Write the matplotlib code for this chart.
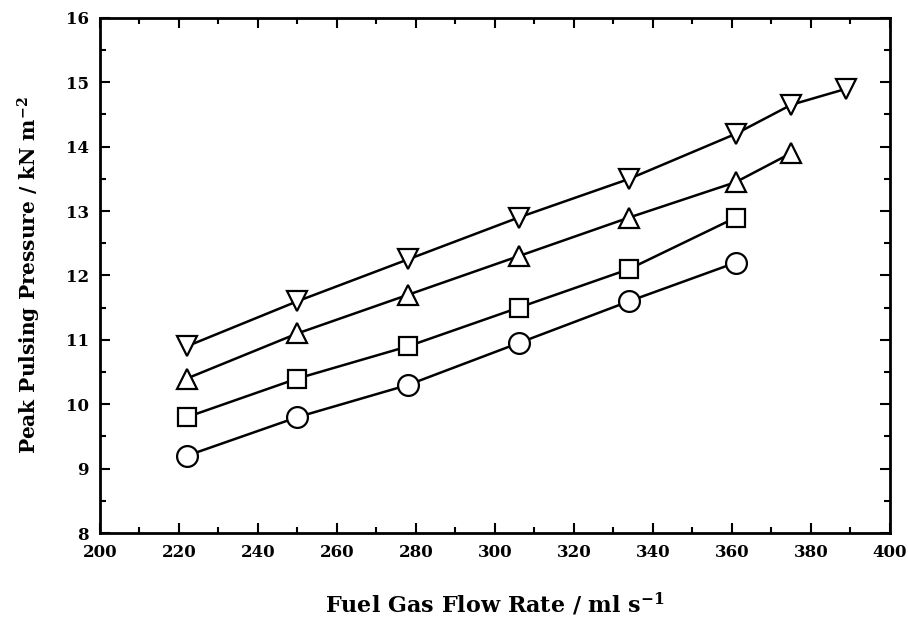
import matplotlib
matplotlib.use("Agg")
import matplotlib.pyplot as plt
from matplotlib.ticker import MultipleLocator

flow = [222, 250, 278, 306, 334, 361, 375, 389]

circle_y = [9.2, 9.8, 10.3, 10.95, 11.6, 12.2]
square_y = [9.8, 10.4, 10.9, 11.5, 12.1, 12.9]
up_y = [10.4, 11.1, 11.7, 12.3, 12.9, 13.45, 13.9]
down_y = [10.9, 11.6, 12.25, 12.9, 13.5, 14.2, 14.65, 14.9]

plt.rcParams['font.family'] = ['DejaVu Serif']
plt.rcParams['font.weight'] = 'bold'
plt.rcParams['mathtext.fontset'] = 'custom'
plt.rcParams['mathtext.rm'] = 'DejaVu Serif:bold'
plt.rcParams['mathtext.default'] = 'rm'

fig = plt.figure(figsize=(9.08, 6.17), dpi=100)
ax = fig.add_axes([0.110, 0.136, 0.870, 0.835])

style = dict(color='black', lw=1.8, mfc='white', mec='black', mew=1.6)
ax.plot(flow[:len(circle_y)], circle_y, marker='o', ms=15, **style)
ax.plot(flow[:len(square_y)], square_y, marker='s', ms=13, **style)
ax.plot(flow[:len(up_y)], up_y, marker='^', ms=15, **style)
ax.plot(flow[:len(down_y)], down_y, marker='v', ms=15, **style)

ax.set_xlim(200, 400)
ax.set_ylim(8, 16)
ax.xaxis.set_major_locator(MultipleLocator(20))
ax.xaxis.set_minor_locator(MultipleLocator(10))
ax.yaxis.set_major_locator(MultipleLocator(1))
ax.yaxis.set_minor_locator(MultipleLocator(0.5))
ax.tick_params(which='both', direction='in', top=True, right=True, width=1.5)
ax.tick_params(which='major', length=7, labelsize=12, pad=8)
ax.tick_params(which='minor', length=4)
for lab in ax.get_xticklabels() + ax.get_yticklabels():
    lab.set_fontweight('bold')
for s in ax.spines.values():
    s.set_linewidth(2)

ax.set_xlabel('Fuel Gas Flow Rate / ml s$^{-1}$', fontsize=16, fontweight='bold', labelpad=21)
ax.set_ylabel('Peak Pulsing Pressure / kN m$^{-2}$', fontsize=14.5, fontweight='bold', labelpad=16)

fig.savefig('out.png', dpi=100)
